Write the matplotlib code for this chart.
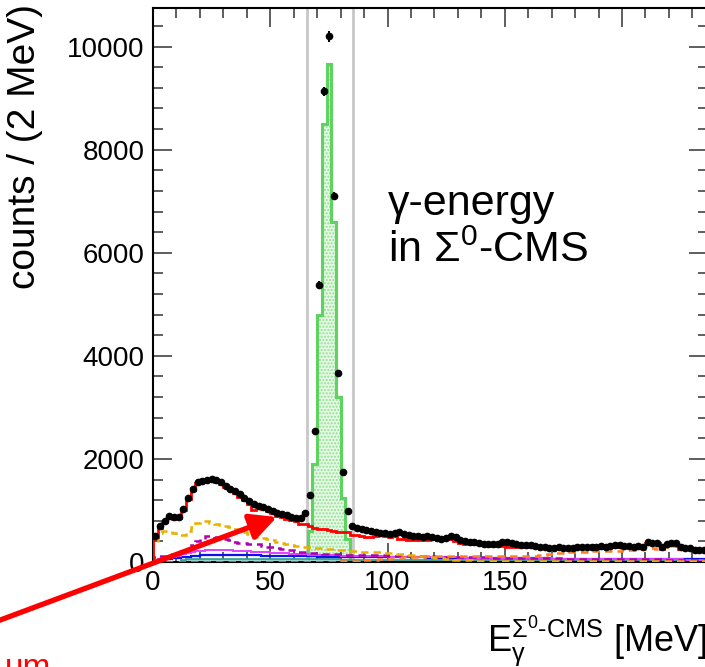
import numpy as np
import matplotlib
matplotlib.use('Agg')
import matplotlib.pyplot as plt

plt.rcParams['font.family'] = ['Liberation Sans', 'DejaVu Sans']
plt.rcParams['mathtext.fontset'] = 'custom'
plt.rcParams['mathtext.rm'] = 'Liberation Sans'
plt.rcParams['mathtext.it'] = 'Liberation Sans'
plt.rcParams['mathtext.default'] = 'regular'

# binning: 2 MeV bins from 0 to 240 MeV
edges = np.arange(0, 242, 2)
centers = edges[:-1] + 1

# measured counts per bin
data = [
    500, 700, 800, 890, 870, 880, 1030, 1250, 1420, 1560,
    1580, 1600, 1610, 1590, 1550, 1480, 1420, 1380, 1310, 1250,
    1180, 1130, 1090, 1060, 1020, 990, 960, 930, 910, 880,
    860, 850, 950, 1300, 2540, 5380, 9130, 10200, 7100, 3670,
    1740, 980, 700, 660, 640, 620, 600, 580, 560, 560,
    550, 560, 590, 540, 520, 500, 500, 490, 500, 480,
    460, 450, 470, 500, 480, 420, 400, 390, 380, 360,
    350, 350, 350, 350, 380, 380, 370, 340, 330, 330,
    330, 320, 300, 290, 280, 280, 290, 280, 280, 270,
    290, 300, 300, 290, 300, 310, 300, 320, 330, 330,
    320, 310, 300, 310, 300, 380, 370, 360, 300, 340,
    370, 370, 290, 280, 270, 240, 230, 230, 240, 230]

# sum of simulated backgrounds (red)
background = [
    480, 660, 770, 860, 840, 850, 1000, 1220, 1390, 1540,
    1560, 1580, 1590, 1560, 1520, 1450, 1390, 1330, 1270, 1200,
    1130, 1000, 1060, 1020, 990, 950, 900, 870, 840, 820,
    790, 740, 730, 700, 660, 650, 640, 620, 600, 590,
    590, 580, 530, 520, 500, 490, 490, 510, 520, 500,
    490, 510, 450, 450, 430, 420, 420, 420, 430, 440,
    440, 430, 480, 440, 400, 360, 350, 350, 340, 340,
    330, 330, 320, 320, 310, 300, 300, 300, 300, 290,
    300, 290, 280, 280, 280, 270, 280, 280, 280, 270,
    280, 280, 280, 280, 270, 280, 290, 290, 300, 290,
    290, 290, 280, 290, 290, 370, 370, 360, 260, 330,
    350, 350, 260, 260, 250, 240, 240, 240, 240, 240]

# Sigma0 signal (green)
signal = [0] * 33 + [600, 1900, 4800, 8500, 9670, 6600, 3200, 1250, 450] + [0] * 78

# background components
gold = [
    360, 560, 600, 600, 560, 520, 520, 600, 680, 760,
    790, 800, 760, 730, 710, 690, 680, 650, 620, 580,
    540, 510, 480, 460, 440, 420, 390, 370, 350, 330,
    320, 310, 300, 290, 280, 270, 260, 250, 250, 240,
    230, 220, 220, 210, 200, 200, 200, 190, 190, 180,
    180, 170, 160, 150, 140, 130, 120, 110, 100, 90,
    80, 70, 60, 50, 40, 40, 30, 30, 20, 20,
    20, 20, 20, 10, 10, 10, 10, 10, 10, 10,
    10, 10, 10, 10, 10, 10, 10, 10, 10, 10,
    10, 10, 10, 10, 10, 10, 10, 10, 10, 10,
    10, 10, 10, 10, 10, 10, 10, 10, 10, 10,
    10, 10, 10, 10, 10, 10, 10, 10, 10, 10]

orange = [
    0, 0, 0, 0, 0, 0, 0, 0, 0, 0,
    0, 0, 0, 0, 0, 0, 0, 0, 0, 0,
    0, 0, 0, 0, 0, 0, 0, 0, 0, 0,
    0, 0, 0, 0, 0, 0, 0, 0, 0, 0,
    10, 10, 20, 20, 30, 30, 40, 40, 50, 50,
    60, 70, 80, 90, 90, 100, 100, 100, 110, 110,
    110, 110, 110, 110, 110, 110, 110, 110, 110, 110,
    110, 110, 120, 120, 120, 120, 120, 120, 120, 120,
    120, 120, 130, 140, 150, 160, 170, 180, 190, 190,
    200, 200, 200, 210, 210, 210, 210, 210, 215, 220,
    230, 240, 240, 240, 250, 265, 265, 260, 280, 300,
    320, 320, 260, 250, 250, 240, 240, 230, 230, 230]

magenta = [
    90, 110, 120, 130, 150, 190, 220, 280, 330, 400,
    450, 500, 505, 490, 465, 450, 420, 390, 370, 360,
    355, 350, 340, 320, 300, 290, 270, 250, 240, 230,
    210, 200, 190, 180, 170, 165, 160, 160, 155, 150,
    150, 145, 145, 140, 140, 135, 135, 130, 130, 130,
    125, 125, 120, 120, 120, 115, 115, 110, 110, 110,
    105, 105, 100, 100, 100, 95, 95, 95, 90, 90,
    90, 90, 85, 85, 85, 80, 80, 80, 80, 75,
    75, 75, 75, 70, 70, 70, 70, 65, 65, 65,
    65, 60, 60, 60, 60, 60, 55, 55, 55, 55,
    55, 55, 50, 50, 50, 50, 50, 50, 50, 45,
    45, 45, 45, 45, 45, 40, 40, 40, 40, 40]

violet = [
    40, 60, 70, 80, 100, 120, 150, 180, 200, 210,
    220, 230, 240, 240, 240, 230, 230, 220, 220, 210,
    210, 200, 200, 190, 190, 180, 180, 170, 170, 160,
    160, 150, 150, 140, 140, 140, 130, 130, 130, 130,
    120, 120, 120, 120, 115, 115, 115, 110, 110, 110,
    105, 105, 105, 100, 100, 100, 100, 95, 95, 95,
    95, 90, 90, 90, 90, 85, 85, 85, 85, 80,
    80, 80, 80, 80, 75, 75, 75, 75, 75, 70,
    70, 70, 70, 70, 70, 65, 65, 65, 65, 65,
    65, 60, 60, 60, 60, 60, 60, 60, 55, 55,
    55, 55, 55, 55, 55, 50, 50, 50, 50, 50,
    50, 50, 50, 45, 45, 45, 45, 45, 45, 45]

blue = [
    30, 40, 50, 60, 70, 80, 90, 100, 110, 120,
    130, 130, 140, 140, 140, 140, 140, 140, 130, 130,
    130, 130, 130, 120, 120, 120, 120, 120, 120, 110,
    110, 110, 110, 110, 110, 105, 105, 105, 105, 100,
    100, 100, 100, 100, 100, 100, 95, 95, 95, 95,
    95, 95, 90, 90, 90, 90, 90, 90, 85, 85,
    85, 85, 85, 85, 80, 80, 80, 80, 80, 80,
    80, 75, 75, 75, 75, 75, 75, 75, 70, 70,
    70, 70, 70, 70, 70, 65, 65, 65, 65, 65,
    65, 65, 65, 60, 60, 60, 60, 60, 60, 60,
    60, 60, 60, 60, 55, 55, 55, 55, 55, 55,
    55, 55, 55, 55, 55, 50, 50, 50, 50, 50]

teal = [
    0, 0, 0, 0, 0, 0, 40, 50, 50, 50,
    50, 50, 50, 50, 50, 50, 50, 50, 50, 50,
    50, 50, 50, 50, 50, 50, 50, 50, 50, 50,
    50, 50, 50, 50, 50, 50, 50, 50, 50, 50,
    45, 45, 45, 45, 45, 45, 45, 45, 45, 45,
    45, 45, 45, 45, 45, 45, 45, 45, 45, 45,
    40, 40, 40, 40, 40, 40, 40, 40, 40, 40,
    40, 40, 40, 40, 40, 40, 40, 40, 40, 40,
    40, 40, 40, 40, 40, 40, 40, 40, 40, 40,
    35, 35, 35, 35, 35, 35, 35, 35, 35, 35,
    35, 35, 35, 35, 35, 35, 35, 35, 35, 35,
    35, 35, 35, 35, 35, 35, 35, 35, 35, 35]

cut_lo, cut_hi = 65.5, 85.2

W, H = 705, 667
x_max = 236.5
fig = plt.figure(figsize=(W / 100, H / 100), dpi=100)
ax = fig.add_axes([153 / W, 1 - 562 / H, x_max * 2.345 / W, 554 / H])

# signal: hatched light green fill + green outline
ax.stairs(signal, edges, fill=True, facecolor='#e6f9e6', edgecolor='#8ee08e',
          hatch='.....', linewidth=0, zorder=1)
ax.stairs(signal, edges, color='#5fd35f', linewidth=2.2, zorder=2)

ax.stairs(teal, edges, fill=True, facecolor='#9ed9d3', edgecolor='#2a9d8f',
          hatch='....', linewidth=0, zorder=2)
ax.stairs(teal, edges, color='#2a9d8f', linewidth=1.2, zorder=2)
ax.stairs(blue, edges, color='#1010ee', linewidth=1.6, zorder=3)
ax.stairs(violet, edges, color='#e040ff', linewidth=1.4, zorder=3)
ax.stairs(magenta, edges, color='#b000b0', linewidth=1.8, linestyle=(0, (3, 2)), zorder=3)
ax.stairs(gold, edges, color='#e8b000', linewidth=1.8, linestyle=(0, (3, 2)), zorder=3)
ax.stairs(orange, edges, color='#ff7f27', linewidth=1.8, linestyle=(0, (3, 2)), zorder=3)
ax.stairs(background, edges, color='#ff0000', linewidth=2.0, zorder=4)

for xc in (cut_lo, cut_hi):
    ax.axvline(xc, color='#c8c8c8', linewidth=2, zorder=1.5)

data = np.array(data, dtype=float)
ax.errorbar(centers, data, xerr=1, yerr=np.sqrt(data), fmt='o', ms=4.5,
            color='black', elinewidth=1.5, capsize=0, zorder=5)

ax.set_xlim(0, x_max)
ax.set_ylim(0, 10750)
ax.set_xticks([0, 50, 100, 150, 200])
ax.set_xticks(np.arange(0, 231, 10), minor=True)
ax.set_yticks(np.arange(0, 10001, 2000))
ax.set_yticks(np.arange(0, 10700, 400), minor=True)
ax.tick_params(which='both', direction='in', top=True, right=True,
               labelsize=20, width=1.1, colors='#333333', labelcolor='black')
ax.tick_params(which='major', length=14, pad=6)
ax.tick_params(which='minor', length=7)
for s in ax.spines.values():
    s.set_linewidth(1.5)

fig.text(25 / W, 1 - 4 / H, 'counts / (2 MeV)', rotation=90, fontsize=28,
         ha='center', va='top')
ax.text(1.0, -0.162, r'$E_{\gamma}^{\Sigma^{0}\text{-CMS}}$ [MeV]', transform=ax.transAxes,
        fontsize=26, ha='right', va='baseline')

ax.text(0.423, 0.5415, 'γ-energy\nin Σ$^{0}$-CMS', transform=ax.transAxes,
        fontsize=31, ha='left', va='baseline', linespacing=1.2)

ax.annotate('', xy=(277, H - 517), xycoords='figure pixels',
            xytext=(-40, H - 635), textcoords='figure pixels',
            arrowprops=dict(arrowstyle='-|>', color='red', lw=3.8,
                            mutation_scale=40, shrinkA=0, shrinkB=0),
            annotation_clip=False, zorder=10)
fig.text(5 / W, -10 / H, 'um', color='red', fontsize=24, ha='left', va='baseline')

fig.savefig('out.png', dpi=100)
